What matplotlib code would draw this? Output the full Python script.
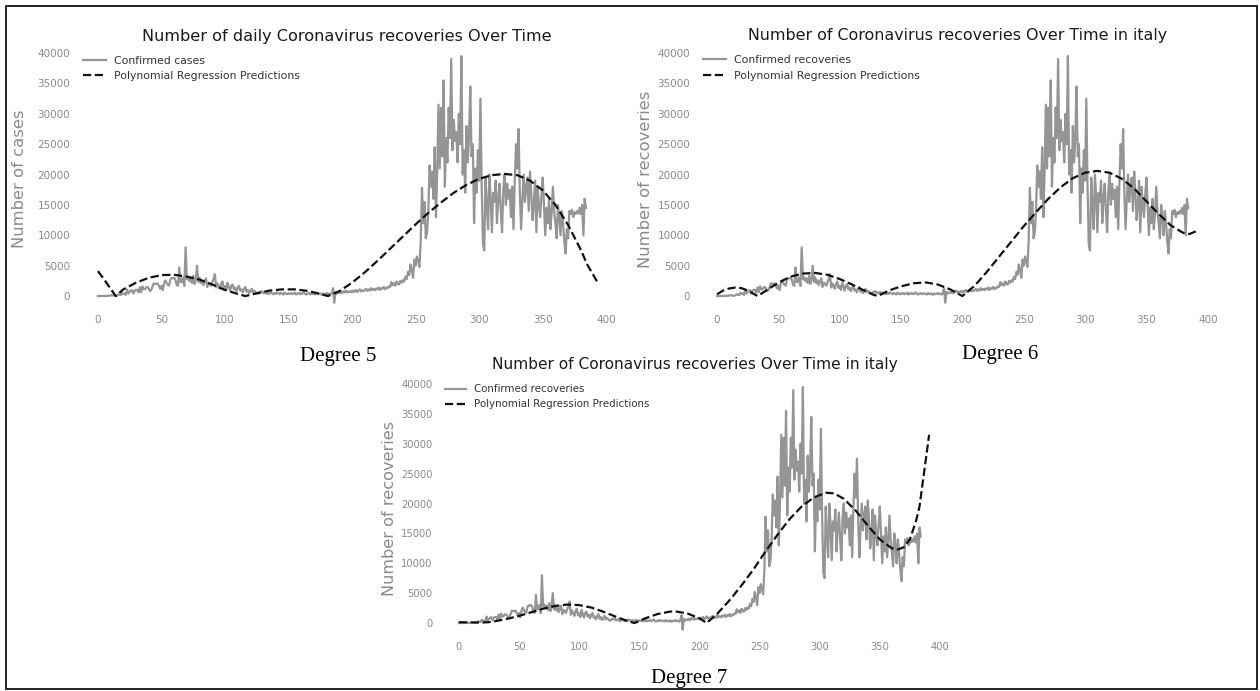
import matplotlib
matplotlib.use("Agg")
import matplotlib.pyplot as plt
from matplotlib.patches import Rectangle
import numpy as np

W, H, DPI = 1260, 691, 100

# Daily recoveries in Italy, one value per day since the first record
recoveries = [
    0, 1, 1, 3, 45, 1, 4, 37, 66, 11,
    116, 138, 109, 66, 33, 102, 280, 213, 181, 527,
    369, 414, 192, 1084, 415, 689, 943, 952, 408, 894,
    1036, 999, 589, 1434, 646, 1590, 1109, 1118, 1431, 1480,
    1238, 819, 1022, 1555, 2099, 1979, 1985, 2079, 1677, 1224,
    1695, 962, 2072, 2563, 2200, 1822, 1728, 2723, 2943, 2922,
    3033, 2622, 1808, 1696, 4693, 2317, 2304, 3031, 1665, 8014,
    2747, 3100, 2450, 2900, 2150, 3350, 2000, 2680, 5000, 2300,
    3050, 2100, 2600, 1800, 2450, 2900, 1500, 2200, 2000, 1700,
    2300, 2800, 3600, 1400, 2100, 1600, 1200, 2000, 2400, 1300,
    1650, 1000, 2200, 1500, 900, 1700, 1900, 1100, 1400, 800,
    1300, 1700, 900, 1100, 600, 1200, 1500, 700, 1000, 500,
    800, 1200, 600, 900, 700, 450, 400, 700, 600, 800,
    500, 600, 400, 700, 300, 500, 600, 400, 300, 500,
    350, 600, 450, 300, 500, 400, 250, 550, 400, 300,
    450, 350, 500, 300, 400, 550, 250, 450, 350, 500,
    300, 450, 600, 350, 250, 400, 500, 300, 450, 350,
    400, 250, 500, 350, 300, 450, 200, 400, 300, 350,
    500, 300, 400, 250, 450, 1300, -1100, 700, 400, 600,
    500, 700, 450, 800, 600, 900, 550, 750, 650, 850,
    600, 900, 700, 1000, 650, 850, 1100, 750, 950, 800,
    1000, 1200, 850, 1100, 900, 1300, 1000, 1150, 950, 1250,
    1100, 1400, 1000, 1300, 1200, 1500, 1100, 1400, 1300, 1600,
    1500, 2300, 1800, 2100, 1700, 2400, 2000, 1900, 2500, 2200,
    2600, 2400, 3200, 2800, 4000, 3500, 5200, 4300, 3000, 6000,
    5000, 6500, 5800, 4800, 9000, 17800, 12000, 15500, 9500, 10500,
    14000, 21500, 18000, 20500, 16000, 24500, 13000, 20500, 31500, 21000,
    31000, 23000, 35500, 18000, 26000, 22000, 31000, 26000, 39000, 24000,
    29000, 25500, 27000, 22000, 30000, 25000, 39500, 20000, 24000, 17000,
    28000, 22000, 26000, 34500, 23000, 25000, 12000, 21000, 17000, 24000,
    19000, 32500, 18000, 8500, 7500, 19500, 15000, 11000, 20000, 16500,
    10500, 17000, 15500, 19000, 12000, 16000, 18500, 14000, 10500, 17500,
    20000, 15000, 18500, 16000, 17500, 13000, 18000, 11000, 19000, 25000,
    21000, 27500, 17000, 11000, 16000, 20000, 15500, 18000, 19500, 14000,
    20500, 17000, 12500, 15000, 19000, 10500, 18000, 15000, 13000, 16500,
    19500, 15000, 10000, 14500, 12000, 16000, 11000, 13500, 18000, 14000,
    12000, 9500, 15000, 13000, 10000, 14000, 12000, 9000, 7000, 11000,
    9500, 14000, 13500, 14200, 13000, 13800, 13500, 14000, 13600, 14500,
    13500, 15000, 10000, 16000, 14500,
]
days = np.arange(len(recoveries))

# Polynomial regression predictions (absolute values), degree 5
deg5_days = [0, 5, 10, 14, 20, 30, 40, 50, 60, 70, 80, 90, 100, 110, 116,
             125, 135, 145, 155, 165, 175, 181, 190, 200, 210, 220, 230, 240,
             250, 260, 270, 280, 290, 300, 310, 320, 330, 340, 350, 360, 370,
             380, 385, 393]
deg5_pred = [4100, 2700, 1200, 0, 1100, 2200, 3000, 3450, 3500, 3200, 2700,
             1900, 1000, 350, 0, 450, 900, 1100, 1100, 850, 350, 0, 800, 2200,
             3900, 5800, 7800, 9800, 11800, 13700, 15400, 17000, 18300, 19300,
             19900, 20100, 19900, 19000, 17400, 15000, 11700, 7600, 5200, 2300]

# degree 6
deg6_days = [0, 5, 10, 15, 20, 25, 30, 33, 40, 50, 60, 70, 80, 90, 100, 110,
             120, 127, 131, 140, 150, 160, 170, 180, 190, 200, 210, 220, 230,
             240, 250, 260, 270, 280, 290, 300, 310, 320, 330, 340, 350, 360,
             370, 380, 385, 392]
deg6_pred = [300, 900, 1250, 1400, 1300, 900, 350, 0, 900, 2200, 3200, 3700,
             3800, 3500, 2800, 1900, 900, 250, 0, 900, 1600, 2100, 2250, 1900,
             1100, 0, 1700, 4000, 6500, 9000, 11500, 13800, 16000, 17900,
             19400, 20300, 20600, 20300, 19300, 17700, 15600, 13500, 11600,
             10400, 10200, 10800]

# degree 7
deg7_days = [0, 10, 20, 25, 30, 40, 50, 60, 70, 80, 90, 100, 110, 120, 130,
             140, 146, 155, 165, 175, 180, 190, 200, 206, 215, 225, 235, 245,
             255, 265, 275, 285, 295, 305, 312, 320, 330, 340, 350, 360, 365,
             370, 375, 380, 383, 386, 389, 391]
deg7_pred = [150, 100, 100, 150, 300, 700, 1200, 1800, 2400, 2850, 3100, 3000,
             2600, 1900, 1100, 350, 0, 800, 1500, 1900, 1950, 1600, 800, 0,
             1600, 3800, 6300, 9000, 12000, 14800, 17400, 19500, 21000, 21800,
             21700, 20800, 18800, 16300, 14000, 12500, 12300, 12700, 14000,
             17000, 19500, 24000, 28500, 31500]

titles = ["Number of daily Coronavirus recoveries Over Time",
          "Number of Coronavirus recoveries Over Time in italy",
          "Number of Coronavirus recoveries Over Time in italy"]
ylabels = ["Number of cases", "Number of recoveries", "Number of recoveries"]
data_labels = ["Confirmed cases", "Confirmed recoveries", "Confirmed recoveries"]
pred_label = "Polynomial Regression Predictions"
captions = ["Degree 5", "Degree 6", "Degree 7"]
xticks = [0, 50, 100, 150, 200, 250, 300, 350, 400]
yticks = [0, 5000, 10000, 15000, 20000, 25000, 30000, 35000, 40000]

preds = [(deg5_days, deg5_pred), (deg6_days, deg6_pred), (deg7_days, deg7_pred)]

# panel geometry in pixels: left, top, right, bottom, title y, ylabel x
panels = [
    dict(box=(73, 50, 621, 308.2), title_y=36.5, title_fs=11.6, ylab_x=20,
         ylab_fs=11.8, tick_fs=7.5, leg_fs=7.8, leg_dy=4.0, leg_sp=0.5,
         xpad=5.0, cap=(338, 356)),
    dict(box=(693, 50, 1222, 308.2), title_y=35.5, title_fs=11.4, ylab_x=646,
         ylab_fs=11.8, tick_fs=7.5, leg_fs=7.8, leg_dy=4.5, leg_sp=0.5,
         xpad=5.0, cap=(1000, 354)),
    dict(box=(435.4, 381, 953.9, 635), title_y=365, title_fs=11.1, ylab_x=389,
         ylab_fs=11.6, tick_fs=7.2, leg_fs=7.4, leg_dy=6.0, leg_sp=0.5,
         xpad=5.4, cap=(689, 678)),
]

XLIM = (-19.6, 411.6)
YLIM = (-2000, 40500)

fig = plt.figure(figsize=(W / DPI, H / DPI), dpi=DPI)
fig.patch.set_facecolor("white")

for i, p in enumerate(panels):
    l, t, r, b = p["box"]
    ax = fig.add_axes([l / W, 1 - b / H, (r - l) / W, (b - t) / H])
    ax.set_facecolor("white")
    ax.plot(days, recoveries, color="#959595", lw=1.6, label=data_labels[i],
            zorder=2)
    pdays, pvals = preds[i]
    ax.plot(pdays, pvals, color="#111111", lw=1.6, ls="--", label=pred_label,
            zorder=3)
    ax.set_xlim(*XLIM)
    ax.set_ylim(*YLIM)
    ax.set_xticks(xticks)
    ax.set_yticks(yticks)
    for s in ax.spines.values():
        s.set_visible(False)
    ax.tick_params(axis="both", length=0, labelsize=p["tick_fs"],
                   labelcolor="#8a8a8a")
    ax.tick_params(axis="y", pad=2)
    ax.tick_params(axis="x", pad=p["xpad"])
    ax.grid(False)

    ax.set_title(titles[i], fontsize=p["title_fs"], color="#1a1a1a",
                 y=(b - p["title_y"]) / (b - t), pad=0, va="center")
    ax.set_ylabel(ylabels[i], fontsize=p["ylab_fs"], color="#8a8a8a",
                  va="center")
    ax.yaxis.set_label_coords((p["ylab_x"] - l) / (r - l), 0.5)

    ax.legend(loc="upper left", frameon=False, fontsize=p["leg_fs"],
              labelcolor="#333333", handlelength=2.1,
              labelspacing=p["leg_sp"],
              bbox_to_anchor=(0, 1 + p["leg_dy"] / (b - t)))

    cx, cy = p["cap"]
    fig.text(cx / W, 1 - cy / H, captions[i], ha="center", va="center",
             fontsize=15, family="Liberation Serif", color="black")

# outer frame
fig.add_artist(Rectangle((6 / W, 1 - 689 / H), (1257 - 6) / W, (689 - 6) / H,
                         transform=fig.transFigure, fill=False,
                         edgecolor="black", lw=1.2))

fig.savefig("out.png", dpi=DPI)
